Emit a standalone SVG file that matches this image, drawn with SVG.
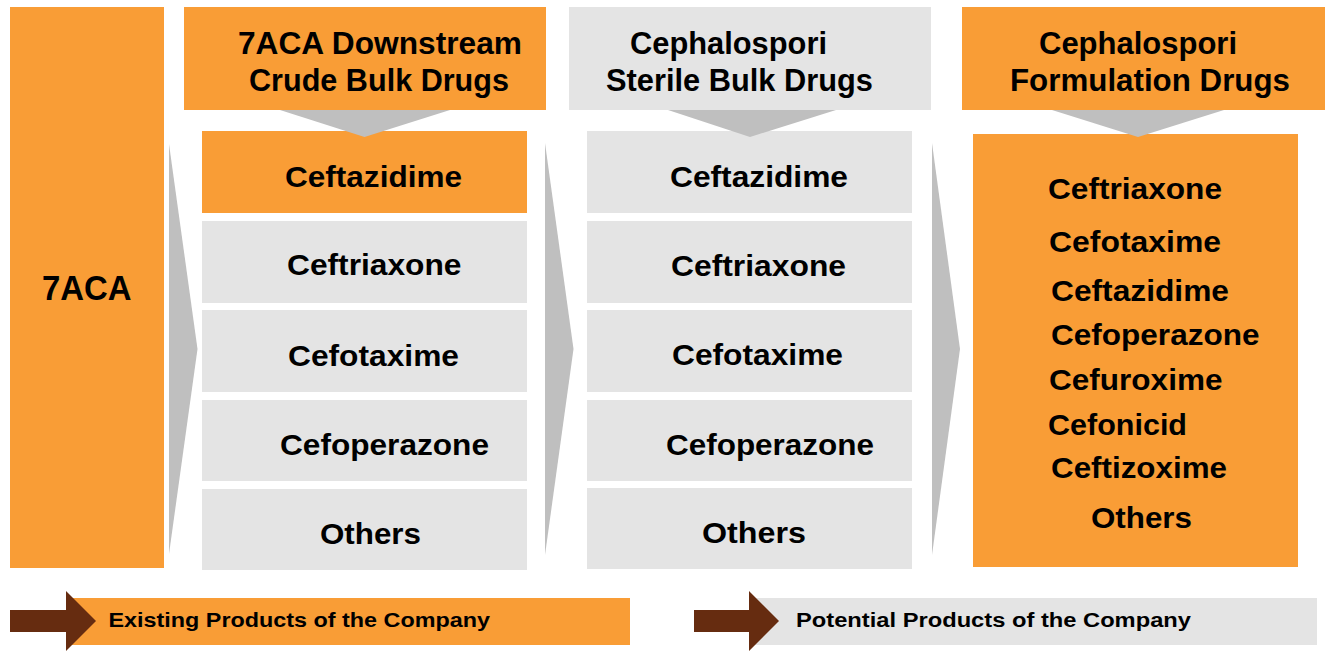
<svg xmlns="http://www.w3.org/2000/svg" width="1327" height="660" viewBox="0 0 1327 660">
<style>
.or{fill:#F99D36}
.gr{fill:#E4E4E4}
.ar{fill:#BFBFBF}
.br{fill:#662C10}
text{font-family:"Liberation Sans",Arial,sans-serif;font-weight:bold;fill:#000}
.t{font-size:30px}
.h{font-size:31px}
.lg{font-size:19.5px}
</style>
<rect width="1327" height="660" fill="#fff"/>
<g id="n7aca">
<rect class="or" x="10" y="7" width="154" height="561"/>
<text x="42" y="300" style="font-size:35px" textLength="89.5" lengthAdjust="spacingAndGlyphs">7ACA</text>
</g>
<g id="hdr1">
<rect class="or" x="184" y="7" width="362" height="103"/>
<text class="h" x="238" y="54" textLength="284" lengthAdjust="spacingAndGlyphs">7ACA Downstream</text>
<text class="h" x="249" y="91" textLength="260" lengthAdjust="spacingAndGlyphs">Crude Bulk Drugs</text>
</g>
<g id="c1-ceftazidime">
<rect class="or" x="202" y="131" width="325" height="82"/>
<text class="t" x="285" y="187" textLength="177" lengthAdjust="spacingAndGlyphs">Ceftazidime</text>
</g>
<g id="c1-ceftriaxone">
<rect class="gr" x="202" y="221" width="325" height="82"/>
<text class="t" x="287" y="275" textLength="174.5" lengthAdjust="spacingAndGlyphs">Ceftriaxone</text>
</g>
<g id="c1-cefotaxime">
<rect class="gr" x="202" y="310" width="325" height="82"/>
<text class="t" x="288" y="366" textLength="171" lengthAdjust="spacingAndGlyphs">Cefotaxime</text>
</g>
<g id="c1-cefoperazone">
<rect class="gr" x="202" y="400" width="325" height="81"/>
<text class="t" x="280" y="455" textLength="209" lengthAdjust="spacingAndGlyphs">Cefoperazone</text>
</g>
<g id="c1-others">
<rect class="gr" x="202" y="489" width="325" height="81"/>
<text class="t" x="320" y="544" textLength="101" lengthAdjust="spacingAndGlyphs">Others</text>
</g>
<g id="hdr2">
<rect class="gr" x="569" y="7" width="362" height="103"/>
<text class="h" x="630" y="54" textLength="197" lengthAdjust="spacingAndGlyphs">Cephalospori</text>
<text class="h" x="606" y="91" textLength="267" lengthAdjust="spacingAndGlyphs">Sterile Bulk Drugs</text>
</g>
<g id="c2-ceftazidime">
<rect class="gr" x="587" y="131" width="325" height="82"/>
<text class="t" x="670" y="187" textLength="178" lengthAdjust="spacingAndGlyphs">Ceftazidime</text>
</g>
<g id="c2-ceftriaxone">
<rect class="gr" x="587" y="221" width="325" height="82"/>
<text class="t" x="671" y="276" textLength="175" lengthAdjust="spacingAndGlyphs">Ceftriaxone</text>
</g>
<g id="c2-cefotaxime">
<rect class="gr" x="587" y="310" width="325" height="82"/>
<text class="t" x="672" y="365" textLength="171" lengthAdjust="spacingAndGlyphs">Cefotaxime</text>
</g>
<g id="c2-cefoperazone">
<rect class="gr" x="587" y="400" width="325" height="81"/>
<text class="t" x="666" y="455" textLength="208" lengthAdjust="spacingAndGlyphs">Cefoperazone</text>
</g>
<g id="c2-others">
<rect class="gr" x="587" y="488" width="325" height="81"/>
<text class="t" x="702" y="543" textLength="104" lengthAdjust="spacingAndGlyphs">Others</text>
</g>
<g id="hdr3">
<rect class="or" x="962" y="7" width="363" height="103"/>
<text class="h" x="1039" y="54" textLength="198" lengthAdjust="spacingAndGlyphs">Cephalospori</text>
<text class="h" x="1010" y="91" textLength="280" lengthAdjust="spacingAndGlyphs">Formulation Drugs</text>
</g>
<g id="c3-list">
<rect class="or" x="973" y="134" width="325" height="433"/>
<text class="t" x="1048" y="199" textLength="174" lengthAdjust="spacingAndGlyphs">Ceftriaxone</text>
<text class="t" x="1049" y="252" textLength="172" lengthAdjust="spacingAndGlyphs">Cefotaxime</text>
<text class="t" x="1051" y="301" textLength="178" lengthAdjust="spacingAndGlyphs">Ceftazidime</text>
<text class="t" x="1051" y="345" textLength="208.5" lengthAdjust="spacingAndGlyphs">Cefoperazone</text>
<text class="t" x="1049" y="390" textLength="173.5" lengthAdjust="spacingAndGlyphs">Cefuroxime</text>
<text class="t" x="1048" y="435" textLength="139" lengthAdjust="spacingAndGlyphs">Cefonicid</text>
<text class="t" x="1051" y="478" textLength="176" lengthAdjust="spacingAndGlyphs">Ceftizoxime</text>
<text class="t" x="1091" y="528" textLength="101" lengthAdjust="spacingAndGlyphs">Others</text>
</g>
<g id="legend-existing">
<rect class="or" x="66" y="598" width="564" height="47"/>
<polygon class="br" points="10,610 66,610 66,591 96,621 66,651 66,632 10,632"/>
<text class="lg" x="108.5" y="627" textLength="381.5" lengthAdjust="spacingAndGlyphs">Existing Products of the Company</text>
</g>
<g id="legend-potential">
<rect class="gr" x="749" y="598" width="568" height="47"/>
<polygon class="br" points="694,610 749,610 749,591 779,621 749,651 749,632 694,632"/>
<text class="lg" x="796" y="627" textLength="395" lengthAdjust="spacingAndGlyphs">Potential Products of the Company</text>
</g>
<g id="connectors">
<polygon class="ar" points="169,144 197.5,349 169,554"/>
<polygon class="ar" points="545,143 573.5,349 545,555"/>
<polygon class="ar" points="932,143 960,349 932,555"/>
<polygon class="ar" points="280,110 450,110 364.5,137"/>
<polygon class="ar" points="668,110 836,110 750,137"/>
<polygon class="ar" points="1052,110 1224,110 1138,137"/>
</g>
</svg>
